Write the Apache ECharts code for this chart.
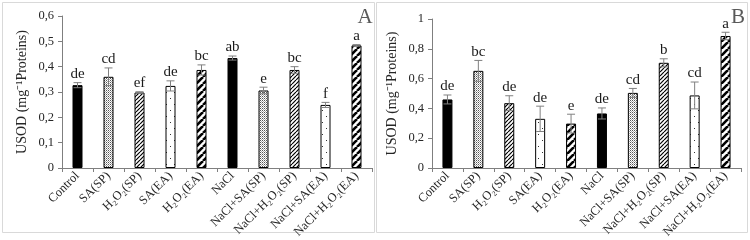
<!DOCTYPE html>
<html>
<head>
<meta charset="utf-8">
<script src="https://cdn.jsdelivr.net/npm/echarts@6/dist/echarts.min.js"></script>
<style>
  html, body { margin: 0; padding: 0; background: #fff; }
  #main { width: 750px; height: 240px; }
</style>
</head>
<body>
<div id="main"></div>
<script>
const categories = ['Control', 'SA(SP)', 'H₂O₂(SP)', 'SA(EA)', 'H₂O₂(EA)', 'NaCl',
  'NaCl+SA(SP)', 'NaCl+H₂O₂(SP)', 'NaCl+SA(EA)', 'NaCl+H₂O₂(EA)']

// panel A
const valuesA = [0.327, 0.36, 0.298, 0.324, 0.387, 0.434, 0.306, 0.387, 0.249, 0.484]
const errorsA = [0.01, 0.035, 0.003, 0.02, 0.02, 0.008, 0.013, 0.013, 0.01, 0.003]
const lettersA = ['de', 'cd', 'ef', 'de', 'bc', 'ab', 'e', 'bc', 'f', 'a']

// panel B
const valuesB = [0.46, 0.652, 0.435, 0.33, 0.298, 0.366, 0.504, 0.706, 0.487, 0.886]
const errorsB = [0.03, 0.07, 0.05, 0.085, 0.063, 0.037, 0.03, 0.027, 0.09, 0.025]
const lettersB = ['de', 'bc', 'de', 'de', 'e', 'de', 'cd', 'b', 'cd', 'a']

const serif = '"Liberation Serif", "Times New Roman", serif'

// fill patterns
function makePattern(w, h, draw) {
  const c = document.createElement('canvas')
  c.width = w
  c.height = h
  const ctx = c.getContext('2d')
  ctx.fillStyle = '#fff'
  ctx.fillRect(0, 0, w, h)
  draw(ctx)
  return { image: c, repeat: 'repeat' }
}

const solidBlack = '#000'
const fineDots = makePattern(2, 2, ctx => {
  ctx.fillStyle = '#555'
  ctx.fillRect(0, 0, 1, 1)
  ctx.fillStyle = '#aaa'
  ctx.fillRect(1, 1, 1, 1)
})
const fineHatch = makePattern(4, 4, ctx => {
  ctx.strokeStyle = '#000'
  ctx.lineWidth = 1.2
  for (let k = -4; k <= 8; k += 4) {
    ctx.beginPath()
    ctx.moveTo(k, 4)
    ctx.lineTo(k + 4, 0)
    ctx.stroke()
  }
})
const sparseDots = makePattern(8, 12, ctx => {
  ctx.fillStyle = '#333'
  ctx.fillRect(2, 2, 1, 1)
  ctx.fillRect(6, 8, 1, 1)
})
const wideStripes = makePattern(7, 7, ctx => {
  ctx.strokeStyle = '#000'
  ctx.lineWidth = 2.6
  for (let k = -7; k <= 14; k += 7) {
    ctx.beginPath()
    ctx.moveTo(k, 7)
    ctx.lineTo(k + 7, 0)
    ctx.stroke()
  }
})

const fills = [solidBlack, fineDots, fineHatch, sparseDots, wideStripes,
  solidBlack, fineDots, fineHatch, sparseDots, wideStripes]

function barData(values) {
  return values.map((v, i) => ({
    value: v,
    itemStyle: { color: fills[i], borderColor: '#000', borderWidth: 1 }
  }))
}

function errData(values, errors) {
  return values.map((v, i) => [i, v, errors[i]])
}

// error bar (both directions) + significance letter on top
function errRenderer(letters) {
  return function (params, api) {
    const i = api.value(0)
    const v = api.value(1)
    const e = api.value(2)
    const top = api.coord([i, v + e])
    const low = api.coord([i, v - e])
    const cap = 4
    const style = { stroke: '#808080', lineWidth: 1 }
    return {
      type: 'group',
      children: [
        { type: 'line', shape: { x1: top[0], y1: top[1], x2: low[0], y2: low[1] }, style },
        { type: 'line', shape: { x1: top[0] - cap, y1: top[1], x2: top[0] + cap, y2: top[1] }, style },
        { type: 'line', shape: { x1: low[0] - cap, y1: low[1], x2: low[0] + cap, y2: low[1] }, style },
        {
          type: 'text',
          x: top[0],
          y: top[1] - 1,
          style: {
            text: letters[params.dataIndex],
            fill: '#1a1a1a',
            font: '15px ' + serif,
            align: 'center',
            verticalAlign: 'bottom'
          }
        }
      ]
    }
  }
}

// 0,1 style decimals, plain "0" and "1"
function fmt(v) {
  const n = Math.round(Number(v) * 10)
  if (n % 10 === 0) return String(n / 10)
  return Math.floor(n / 10) + ',' + (n % 10)
}

function xAxis(gridIndex) {
  return {
    type: 'category',
    gridIndex,
    data: categories,
    axisLine: { lineStyle: { color: '#7f7f7f' } },
    axisTick: { show: true, length: 4, lineStyle: { color: '#7f7f7f' } },
    axisLabel: {
      rotate: 45,
      interval: 0,
      hideOverlap: false,
      margin: 6,
      fontFamily: serif,
      fontSize: 12.5,
      color: '#262626'
    }
  }
}

function yAxis(gridIndex, max, interval) {
  return {
    type: 'value',
    gridIndex,
    min: 0,
    max,
    interval,
    name: 'USOD (mg⁻¹Proteins)',
    nameLocation: 'middle',
    nameGap: 33,
    nameTextStyle: { fontFamily: serif, fontSize: 14, color: '#262626' },
    splitLine: { show: false },
    axisLine: { show: true, lineStyle: { color: '#7f7f7f' } },
    axisTick: { show: true, length: 4, lineStyle: { color: '#7f7f7f' } },
    axisLabel: {
      formatter: fmt,
      fontFamily: serif,
      fontSize: 12.5,
      color: '#262626',
      margin: 8
    }
  }
}

const chart = echarts.init(document.getElementById('main'), null, { renderer: 'canvas' })

const option = {
  backgroundColor: '#fff',
  animation: false,
  grid: [
    { left: 62, right: 378, top: 16, bottom: 72, containLabel: false, outerBoundsMode: 'none' },
    { left: 432, right: 9, top: 19, bottom: 72, containLabel: false, outerBoundsMode: 'none' }
  ],
  xAxis: [xAxis(0), xAxis(1)],
  yAxis: [yAxis(0, 0.6, 0.1), yAxis(1, 1, 0.2)],
  graphic: [
    { type: 'rect', shape: { x: 2.5, y: 2.5, width: 372, height: 230 }, style: { fill: 'none', stroke: '#d9d9d9', lineWidth: 1 } },
    { type: 'rect', shape: { x: 376.5, y: 2.5, width: 371, height: 230 }, style: { fill: 'none', stroke: '#d9d9d9', lineWidth: 1 } },
    { type: 'text', x: 365, y: 17, style: { text: 'A', font: '21px ' + serif, fill: '#595959', align: 'center', verticalAlign: 'middle' } },
    { type: 'text', x: 738, y: 17, style: { text: 'B', font: '21px ' + serif, fill: '#595959', align: 'center', verticalAlign: 'middle' } }
  ],
  series: [
    { type: 'bar', xAxisIndex: 0, yAxisIndex: 0, barWidth: 10, data: barData(valuesA) },
    { type: 'custom', xAxisIndex: 0, yAxisIndex: 0, renderItem: errRenderer(lettersA), data: errData(valuesA, errorsA), z: 5 },
    { type: 'bar', xAxisIndex: 1, yAxisIndex: 1, barWidth: 10, data: barData(valuesB) },
    { type: 'custom', xAxisIndex: 1, yAxisIndex: 1, renderItem: errRenderer(lettersB), data: errData(valuesB, errorsB), z: 5 }
  ]
}

chart.setOption(option)
</script>
</body>
</html>
